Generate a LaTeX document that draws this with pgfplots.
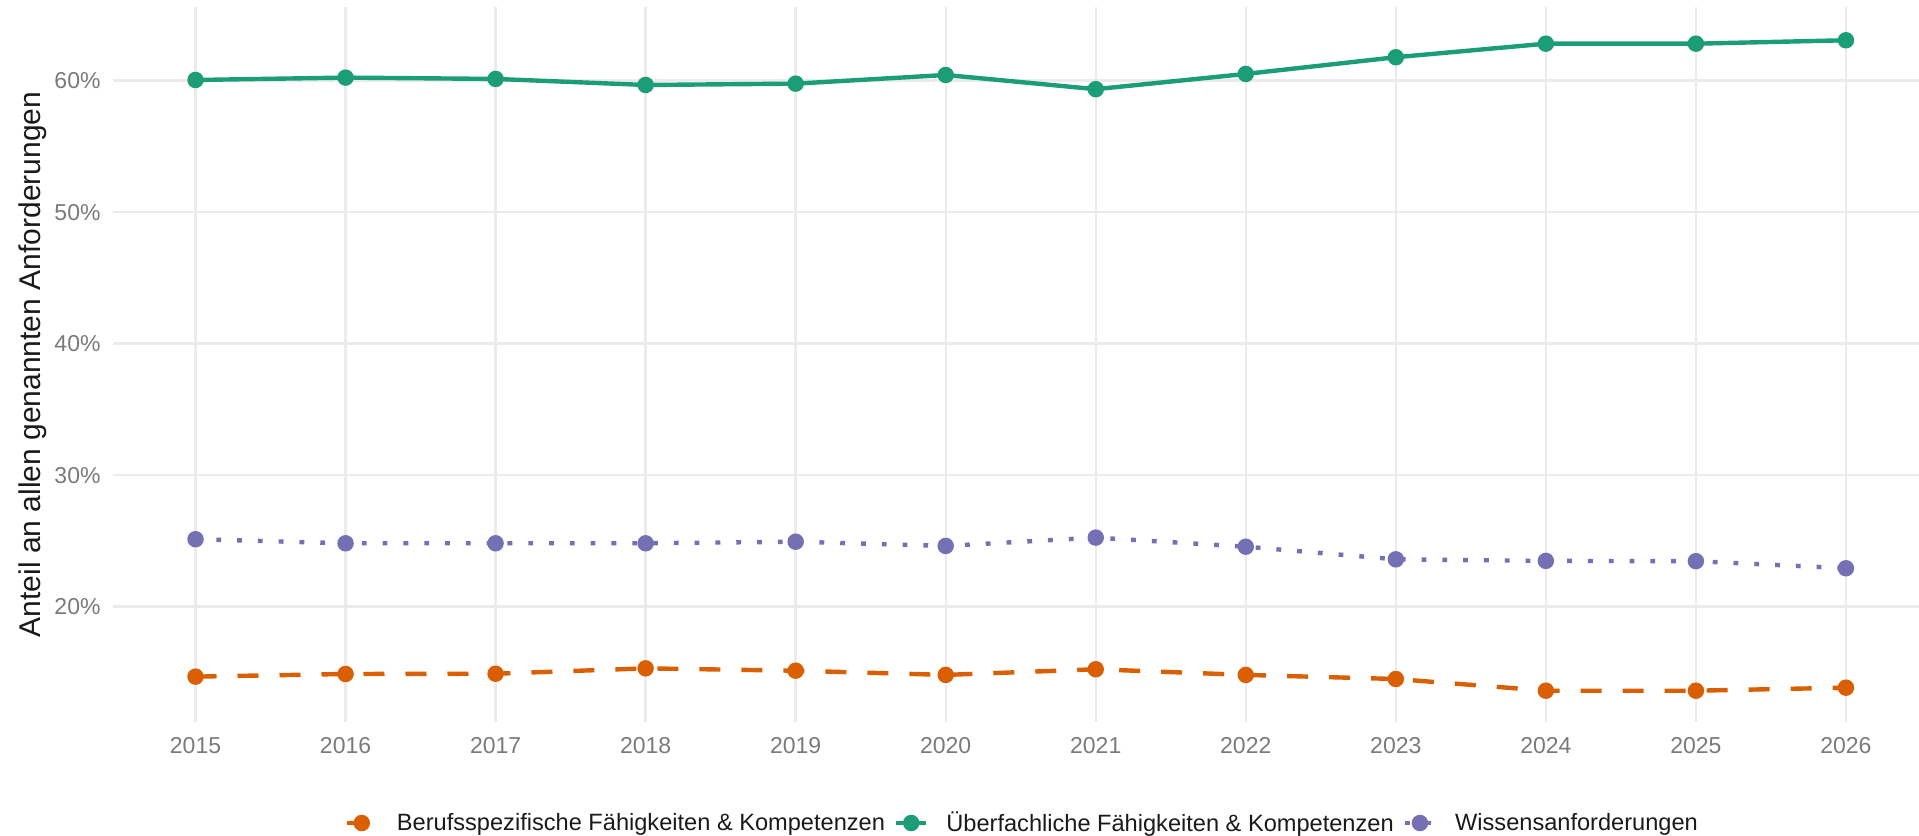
\documentclass[border=0pt]{standalone}
\usepackage{pgfplots}
\pgfplotsset{compat=1.18}
\usepackage{fontspec}
\setmainfont{Liberation Sans}
\definecolor{cOr}{HTML}{D95F02}
\definecolor{cGr}{HTML}{1B9E77}
\definecolor{cPu}{HTML}{7570B3}
\definecolor{cTick}{HTML}{7A7A7A}
\definecolor{cGrid}{HTML}{EBEBEB}
\definecolor{cTxt}{HTML}{1A1A1A}
\begin{document}
\begin{tikzpicture}
\path[use as bounding box] (0,0) rectangle (959.5pt,418pt);
\begin{axis}[
  at={(56.5pt,57pt)}, anchor=south west,
  scale only axis, width=903pt, height=357.5pt,
  xmin=2014.45, xmax=2026.487,
  ymin=11.23, ymax=65.6,
  axis line style={draw=none},
  major tick length=0pt,
  grid=major,
  major grid style={color=cGrid, line width=1.2pt},
  xtick={2015,2016,2017,2018,2019,2020,2021,2022,2023,2024,2025,2026},
  xticklabels={2015,2016,2017,2018,2019,2020,2021,2022,2023,2024,2025,2026},
  ytick={20,30,40,50,60},
  yticklabels={20\%,30\%,40\%,50\%,60\%},
  xticklabel style={font=\fontsize{11.5}{13}\selectfont, text=cTick, yshift=-4pt},
  yticklabel style={font=\fontsize{11.5}{13}\selectfont, text=cTick, xshift=-2.7pt},
  ylabel={Anteil an allen genannten Anforderungen},
  ylabel style={at={(axis description cs:-0.0443,0.5)}, anchor=center, font=\fontsize{15}{17}\selectfont, text=cTxt},
  legend columns=3,
  legend style={at={(axis description cs:0.504,-0.1413)}, anchor=center, draw=none, fill=none,
    font=\fontsize{11.8}{13}\selectfont, text=cTxt,
    /tikz/every odd column/.append style={column sep=7pt},
    /tikz/every even column/.append style={column sep=2.5pt}},
  legend cell align=left,
  legend image code/.code={\draw[mark repeat=2,mark phase=2,#1] plot coordinates {(-7.5pt,0pt) (0pt,0pt) (7.5pt,0pt)};},
  every axis plot/.append style={line width=2.2pt, line cap=butt},
]
\addplot[color=cOr, dash pattern=on 10.5pt off 10.5pt, mark=*, mark size=3pt, mark options={solid}] coordinates {
(2015,14.68) (2016,14.88) (2017,14.90) (2018,15.31) (2019,15.13) (2020,14.81)
(2021,15.24) (2022,14.81) (2023,14.50) (2024,13.61) (2025,13.61) (2026,13.84)};
\addlegendentry{Berufsspezifische Fähigkeiten \& Kompetenzen}
\addplot[color=cGr, solid, mark=*, mark size=3pt, mark options={solid}] coordinates {
(2015,60.05) (2016,60.23) (2017,60.13) (2018,59.67) (2019,59.77) (2020,60.43)
(2021,59.35) (2022,60.51) (2023,61.78) (2024,62.81) (2025,62.81) (2026,63.07)};
\addlegendentry{Überfachliche Fähigkeiten \& Kompetenzen}
\addplot[color=cPu, dash pattern=on 2.4pt off 8pt, mark=*, mark size=3pt, mark options={solid}] coordinates {
(2015,25.13) (2016,24.82) (2017,24.82) (2018,24.82) (2019,24.94) (2020,24.62)
(2021,25.25) (2022,24.56) (2023,23.60) (2024,23.48) (2025,23.46) (2026,22.92)};
\addlegendentry{Wissensanforderungen}
\end{axis}
\end{tikzpicture}
\end{document}
